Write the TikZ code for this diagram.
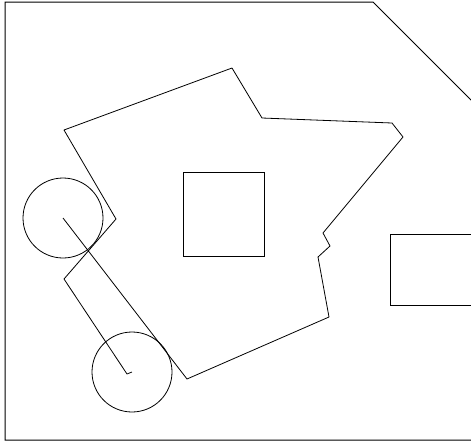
\documentclass[tikz,border=0pt]{standalone}
\usepackage{tikz}
\usetikzlibrary{calc}

\begin{document}
\begin{tikzpicture}[
    x=1pt, y=-1pt,
    wall/.style={draw, line width=1pt},
    obstacle/.style={draw, line width=1pt},
    route/.style={draw, line width=0.8pt, line join=bevel},
    robot/.style={draw, line width=0.8pt}
]
\useasboundingbox (0,0) rectangle (471,445);
\clip (0,0) rectangle (471,445);
% room walls
\draw[wall] (480,440) -- (5,440) -- (5,2) -- (373,2) -- (482,111);
% obstacles
\draw[obstacle] (183,172) rectangle (264,256);
\draw[obstacle] (390,234) rectangle (482,305);
% start and goal positions
\coordinate (start) at (63,218);
\coordinate (goal) at (132,372);
\draw[robot] (start) circle (40);
\draw[robot] (goal) circle (40);
% planned path
\draw[route] (start) -- (187,379) -- (329,317) -- (318,257) -- (330,246)
    -- (323,233) -- (403,137) -- (392,123) -- (262,118) -- (232,68)
    -- (64,130) -- (116,219) -- (64,279) -- (127,374) -- (goal);
\end{tikzpicture}
\end{document}
